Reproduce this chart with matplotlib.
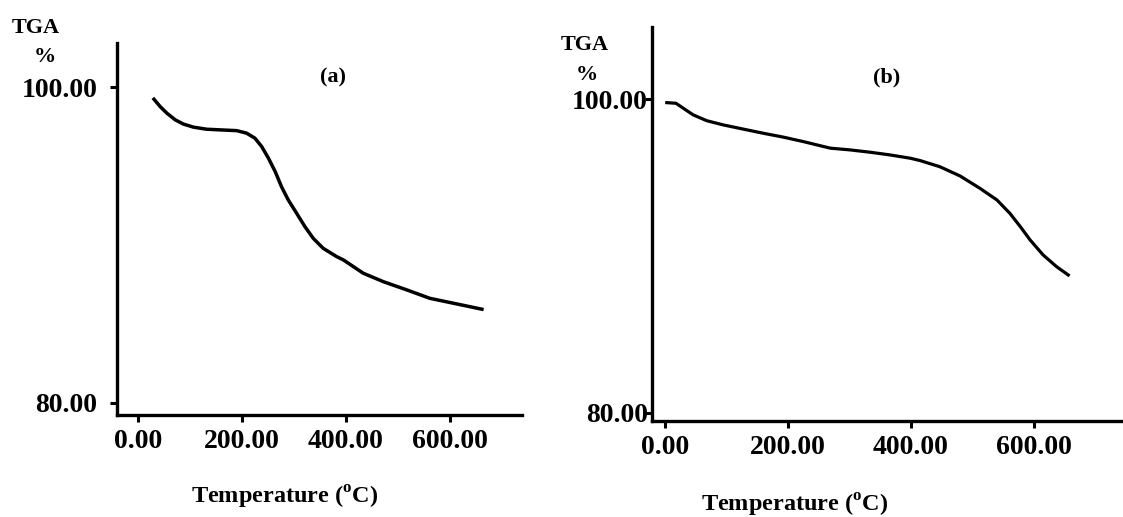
import matplotlib
matplotlib.use('Agg')
import matplotlib.pyplot as plt

plt.rcParams['font.family'] = ['Liberation Serif', 'DejaVu Serif']
plt.rcParams['font.weight'] = 'bold'
plt.rcParams['mathtext.fontset'] = 'custom'
plt.rcParams['mathtext.rm'] = 'Liberation Serif:bold'
plt.rcParams['mathtext.bf'] = 'Liberation Serif:bold'

# panel (a)
temp_a = [31, 43, 56, 72, 88, 107, 132, 164, 190, 209, 225, 238, 251, 264, 276,
          289, 305, 321, 337, 356, 382, 395, 433, 472, 517, 561, 606, 661]
tga_a = [99.24, 98.77, 98.35, 97.93, 97.66, 97.47, 97.34, 97.29, 97.25, 97.09, 96.77,
         96.24, 95.5, 94.65, 93.70, 92.86, 92.02, 91.17, 90.43, 89.8, 89.27, 89.06,
         88.22, 87.68, 87.16, 86.63, 86.32, 85.94]

# panel (b)
temp_b = [3, 18, 30, 46, 68, 95, 128, 160, 193, 225, 247, 269, 301, 334, 366, 399,
          415, 447, 480, 512, 540, 561, 578, 594, 615, 637, 656]
tga_b = [99.77, 99.73, 99.41, 98.99, 98.62, 98.35, 98.08, 97.82, 97.57, 97.29, 97.08,
         96.87, 96.76, 96.61, 96.44, 96.23, 96.08, 95.69, 95.10, 94.32, 93.57, 92.72,
         91.87, 91.02, 90.07, 89.32, 88.79]

xticks = [0, 200, 400, 600]
xticklabels = ['0.00', '200.00', '400.00', '600.00']
yticks = [80, 100]
yticklabels = ['80.00', '100.00']

fig = plt.figure(figsize=(11.23, 5.17), dpi=100)
ax_a = fig.add_axes([0.1042, 0.1973, 0.3606, 0.7195])
ax_b = fig.add_axes([0.5806, 0.1857, 0.4194, 0.7621])

def style(ax, xlim, ylim, ypad):
    for s in ['top', 'right']:
        ax.spines[s].set_visible(False)
    for s in ['left', 'bottom']:
        ax.spines[s].set_linewidth(2.4)
    ax.set_xlim(*xlim)
    ax.set_ylim(*ylim)
    ax.set_xticks(xticks)
    ax.set_xticklabels(xticklabels)
    ax.set_yticks(yticks)
    ax.set_yticklabels(yticklabels)
    ax.tick_params(length=5, width=2.2, labelsize=20)
    ax.tick_params(axis='x', pad=5)
    ax.tick_params(axis='y', pad=ypad)
    for lab in ax.get_xticklabels() + ax.get_yticklabels():
        lab.set_fontweight('bold')

ax_a.plot(temp_a, tga_a, color='black', lw=2.5)
style(ax_a, (-40, 738), (79.24, 102.8), 9)

ax_b.plot(temp_b, tga_b, color='black', lw=2.3)
style(ax_b, (-21, 745), (79.49, 104.59), -2)

fig.text(0.032, 0.946, 'TGA', ha='center', va='center', fontsize=16, fontweight='bold')
fig.text(0.040, 0.890, '%', ha='center', va='center', fontsize=16, fontweight='bold')
fig.text(0.521, 0.913, 'TGA', ha='center', va='center', fontsize=16, fontweight='bold')
fig.text(0.5227, 0.855, '%', ha='center', va='center', fontsize=16, fontweight='bold')
fig.text(333 / 1123, 1 - 77 / 517, '(a)', ha='center', va='center', fontsize=16, fontweight='bold')
fig.text(887 / 1123, 1 - 77 / 517, '(b)', ha='center', va='center', fontsize=16, fontweight='bold')
fig.text(0.2538, 0.0387, r'Temperature ($^{\mathbf{o}}$C)', ha='center', va='center', fontsize=17.5, fontweight='bold')
fig.text(0.708, 0.023, r'Temperature ($^{\mathbf{o}}$C)', ha='center', va='center', fontsize=17.5, fontweight='bold')

fig.savefig('out.png', dpi=100)
